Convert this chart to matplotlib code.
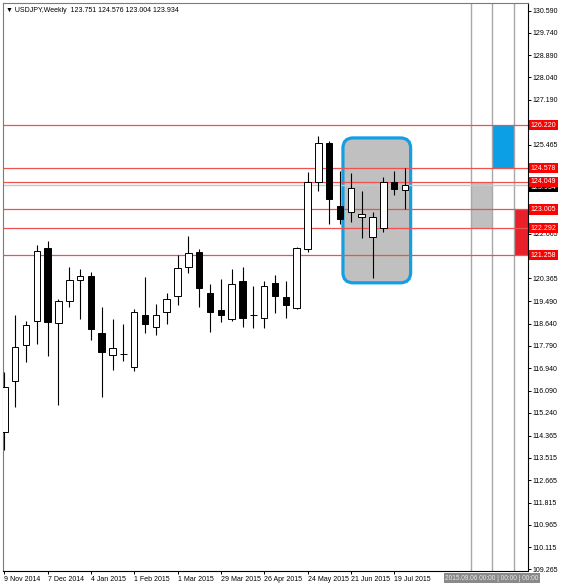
import matplotlib
matplotlib.use("Agg")
import matplotlib.pyplot as plt
from matplotlib.patches import FancyBboxPatch, Rectangle

# weekly USDJPY candles, 9 Nov 2014 .. 26 Jul 2015
opens = [114.50, 116.45, 117.84, 118.74, 121.54, 118.66, 119.51, 120.31, 120.46, 118.30,
         117.44, 117.48, 116.98, 118.98, 118.51, 119.08, 119.70, 120.80, 121.37, 119.83,
         119.17, 118.81, 120.28, 118.99, 118.85, 120.21, 119.64, 119.23, 121.48, 124.06,
         125.55, 123.15, 122.90, 122.70, 121.96, 122.28, 124.03, 123.751]
highs = [116.81, 118.98, 118.75, 121.65, 121.81, 119.59, 120.80, 120.72, 120.61, 119.29,
         118.83, 118.63, 119.19, 120.44, 119.40, 119.83, 121.28, 121.99, 121.49, 120.15,
         120.34, 120.72, 120.82, 120.08, 120.27, 120.50, 120.27, 121.57, 124.42, 125.82,
         125.63, 124.45, 124.38, 123.71, 122.90, 124.23, 124.45, 124.576]
lows = [113.82, 115.45, 117.19, 117.86, 117.41, 115.54, 119.29, 118.82, 118.02, 115.83,
        116.89, 117.23, 116.85, 118.28, 118.21, 118.62, 119.36, 120.59, 119.27, 118.32,
        118.70, 118.74, 118.53, 118.49, 118.47, 119.04, 118.85, 119.20, 121.39, 123.72,
        122.45, 122.45, 122.54, 121.90, 120.38, 122.15, 123.56, 123.004]
closes = [116.24, 117.74, 118.58, 121.43, 118.72, 119.51, 120.30, 120.45, 118.43, 117.56,
          117.73, 117.50, 119.10, 118.63, 118.98, 119.57, 120.78, 121.33, 119.99, 119.09,
          118.96, 120.16, 118.85, 118.97, 120.09, 119.70, 119.35, 121.52, 124.06, 125.55,
          123.39, 122.64, 123.81, 122.83, 122.73, 124.04, 123.77, 123.934]

date_idx = [0, 4, 8, 12, 16, 20, 24, 28, 32, 36]
date_labels = ["9 Nov 2014", "7 Dec 2014", "4 Jan 2015", "1 Feb 2015", "1 Mar 2015",
               "29 Mar 2015", "26 Apr 2015", "24 May 2015", "21 Jun 2015", "19 Jul 2015"]

# scale labels (the ones hidden under the level tags are left out)
price_ticks = [130.590, 129.740, 128.890, 128.040, 127.190, 126.315, 125.465,
               123.765, 122.065, 120.365, 119.490, 118.640, 117.790,
               116.940, 116.090, 115.240, 114.365, 113.515, 112.665, 111.815, 110.965,
               110.115, 109.265]

levels = [126.220, 124.578, 124.049, 123.005, 122.292, 121.258]
last_price = 123.934

# consolidation box (weeks, prices)
box_weeks = [31.27, 37.52]
box_prices = [120.20, 125.73]

# projection zones on the right: (x0, x1, low, high, colour)
zone_lines = [43.1, 45.05, 47.05]
zones = [(43.1, 45.05, 122.292, 124.049, "#c0c0c0"),
         (45.05, 47.05, 124.578, 126.220, "#0c9fe6"),
         (47.05, 48.4, 121.258, 123.005, "#e8202a")]

plt.rcParams["font.family"] = ["Liberation Sans", "DejaVu Sans"]
plt.rcParams["font.size"] = 5

W, H = 561, 585
fig = plt.figure(figsize=(W / 100, H / 100), dpi=100)
ax = fig.add_axes([3.3 / W, 1 - 570.5 / H, (527.7 - 3.3) / W, (570.5 - 3) / H])
ax.set_xlim(-0.09, 48.33)
ax.set_ylim(109.22, 130.88)

# consolidation box
bx = FancyBboxPatch((box_weeks[0], box_prices[0]), box_weeks[1] - box_weeks[0],
                    box_prices[1] - box_prices[0],
                    boxstyle="round,pad=0,rounding_size=0.95", mutation_aspect=10.83 / 26.2,
                    fc="#c0c0c0", ec="#149fe4", lw=2.3, zorder=1)
ax.add_patch(bx)

for x0, x1, lo, hi, col in zones:
    ax.add_patch(Rectangle((x0, lo), x1 - x0, hi - lo, fc=col, ec="none", zorder=1))
for x in zone_lines:
    ax.axvline(x, color="#a8a8a8", lw=1.0, zorder=1.5)

ax.axhline(last_price, color="#c8c8c8", lw=1.0, zorder=1.6)
for lv in levels:
    ax.axhline(lv, color="#f05050", lw=0.9, zorder=2)

# candles
n = len(opens)
for i in range(n):
    o, h, l, c = opens[i], highs[i], lows[i], closes[i]
    ax.plot([i, i], [l, h], color="black", lw=0.8, zorder=3, solid_capstyle="butt")
    lo, hi = min(o, c), max(o, c)
    fc = "white" if c >= o else "black"
    ax.bar(i, max(hi - lo, 0.001), bottom=lo, width=0.6, color=fc,
           edgecolor="black", lw=0.7, zorder=4)

# axes styling
for s in ["left", "top"]:
    ax.spines[s].set_color("#7a7a7a")
for s in ["right", "bottom"]:
    ax.spines[s].set_color("black")
for s in ax.spines.values():
    s.set_linewidth(0.8)

ax.yaxis.tick_right()
ax.set_yticks(price_ticks)
ax.set_yticklabels([f"{p:.3f}" for p in price_ticks])
ax.tick_params(axis="y", length=2, width=0.7, pad=1.5, labelsize=5)
ax.set_xticks(date_idx)
ax.set_xticklabels(date_labels, ha="left")
ax.tick_params(axis="x", length=2.5, width=0.7, pad=1.5, labelsize=5)

# price tags on the scale
ax.annotate(f"{last_price:.3f}", xy=(1.0, last_price), xycoords=("axes fraction", "data"),
            xytext=(2.2, -1.5), textcoords="offset points", ha="left", va="center",
            fontsize=5, color="white", zorder=10, annotation_clip=False,
            bbox=dict(boxstyle="square,pad=0.25", fc="black", ec="none"))
for lv in levels:
    ax.annotate(f"{lv:.3f}", xy=(1.0, lv), xycoords=("axes fraction", "data"),
                xytext=(2.2, 0), textcoords="offset points", ha="left", va="center",
                fontsize=5, color="white", zorder=11, annotation_clip=False,
                bbox=dict(boxstyle="square,pad=0.25", fc="#ff0000", ec="none"))

fig.text(6 / W, 1 - 10 / H, "\u25bc USDJPY,Weekly  123.751 124.576 123.004 123.934",
         fontsize=5, va="center", ha="left", color="black",
         family=["Liberation Sans", "DejaVu Sans"])

fig.text(445 / W, 1 - 578 / H, "2015.09.06 00:00 | 00:00 | 00:00", fontsize=4.7,
         va="center", ha="left", color="#e8e8e8",
         bbox=dict(boxstyle="square,pad=0.2", fc="#8a8a8a", ec="none"))

fig.savefig("out.png", dpi=100)
